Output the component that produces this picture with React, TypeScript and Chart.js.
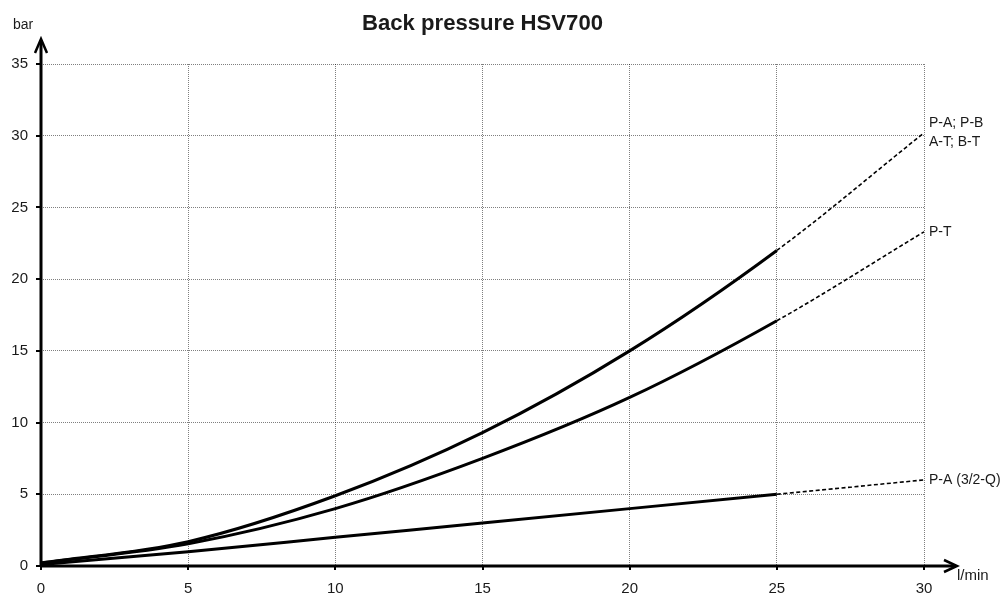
import React, { useEffect, useRef } from "react";
import { Chart, registerables } from "chart.js";

Chart.register(...registerables);

// ---- data ----
const flowValues = [0, 5, 10, 15, 20, 25, 30];
const pressurePAPB = [0.2, 1.7, 4.9, 9.3, 15.0, 22.0, 30.2];
const pressurePT = [0.2, 1.55, 4.0, 7.5, 11.75, 17.1, 23.3];
const pressurePA32 = [0.1, 1.0, 2.0, 3.0, 4.0, 5.0, 6.0];
const seriesLabels = [["P-A; P-B", "A-T; B-T"], ["P-T"], ["P-A (3/2-Q)"]];
const measuredLimit = 25;
const titleText = "Back pressure HSV700";
const yUnit = "bar";
const xUnit = "l/min";
const xMin = 0;
const xMax = 30;
const xStep = 5;
const yMin = 0;
const yMax = 35;
const yStep = 5;

const FONT = "'Liberation Sans', Arial, sans-serif";
const INK = "#1a1a1a";

const toPoints = (ys: number[]) => flowValues.map((x, i) => ({ x, y: ys[i] }));

const decorPlugin = {
  id: "decor",
  afterDraw(chart: any) {
    const { ctx, chartArea, scales } = chart;
    const xs = scales.x;
    const ys = scales.y;
    const L = chartArea.left;
    const B = chartArea.bottom;
    ctx.save();
    ctx.strokeStyle = "#000";
    ctx.fillStyle = INK;
    ctx.lineCap = "butt";

    // tick marks
    ctx.lineWidth = 2;
    ctx.beginPath();
    for (let v = yMin; v <= yMax; v += yStep) {
      const p = Math.round(ys.getPixelForValue(v));
      ctx.moveTo(L - 5, p);
      ctx.lineTo(L, p);
    }
    for (let v = xMin; v <= xMax; v += xStep) {
      const p = Math.round(xs.getPixelForValue(v));
      ctx.moveTo(p, B);
      ctx.lineTo(p, B + 4);
    }
    ctx.stroke();

    // axes with arrows
    const yTip = chartArea.top - 25;
    const xTip = chartArea.right + 33;
    ctx.lineWidth = 3;
    ctx.beginPath();
    ctx.moveTo(L, B);
    ctx.lineTo(L, yTip + 1);
    ctx.moveTo(L, B);
    ctx.lineTo(xTip - 1, B);
    ctx.stroke();
    ctx.lineWidth = 2.5;
    ctx.lineJoin = "miter";
    ctx.beginPath();
    ctx.moveTo(L - 6, yTip + 14);
    ctx.lineTo(L, yTip);
    ctx.lineTo(L + 6, yTip + 14);
    ctx.moveTo(xTip - 13, B - 6);
    ctx.lineTo(xTip, B);
    ctx.lineTo(xTip - 13, B + 6);
    ctx.stroke();

    // unit labels
    ctx.font = `14px ${FONT}`;
    ctx.textBaseline = "middle";
    ctx.textAlign = "left";
    ctx.fillText(yUnit, 13, 25);
    ctx.font = `15px ${FONT}`;
    ctx.fillText(xUnit, xTip, B + 10);

    // series labels at curve ends
    ctx.font = `14px ${FONT}`;
    const ends = [pressurePAPB, pressurePT, pressurePA32];
    ends.forEach((vals, i) => {
      const lines = seriesLabels[i];
      const px = xs.getPixelForValue(flowValues[flowValues.length - 1]) + 5;
      const py = ys.getPixelForValue(vals[vals.length - 1]);
      const lh = 19;
      const start = py - ((lines.length - 1) * lh) / 2;
      lines.forEach((t, k) => ctx.fillText(t, px, start + k * lh));
    });

    // title
    ctx.font = `bold 22px ${FONT}`;
    ctx.textAlign = "center";
    ctx.textBaseline = "alphabetic";
    const w = ctx.measureText(titleText).width;
    const cx = (chartArea.left + chartArea.right) / 2;
    ctx.translate(cx, 30);
    ctx.scale(241 / w, 1);
    ctx.fillText(titleText, 0, 0);
    ctx.restore();
  },
};

export default function App() {
  const ref = useRef<HTMLCanvasElement | null>(null);
  useEffect(() => {
    document.body.style.margin = "0";
    const canvas = ref.current;
    if (!canvas) return;
    const dashed = (ctx: any) => (ctx.p0.parsed.x >= measuredLimit ? [4, 2.5] : undefined);
    const thin = (ctx: any) => (ctx.p0.parsed.x >= measuredLimit ? 1.6 : undefined);
    const mk = (label: string, ys: number[]) => ({
      label,
      data: toPoints(ys),
      borderColor: "#000",
      backgroundColor: "#000",
      borderWidth: 3,
      pointRadius: 0,
      fill: false,
      cubicInterpolationMode: "monotone" as const,
      segment: { borderDash: dashed, borderWidth: thin },
    });
    const chart = new Chart(canvas, {
      type: "line",
      data: {
        datasets: [
          mk(seriesLabels[0].join(" / "), pressurePAPB),
          mk(seriesLabels[1].join(" / "), pressurePT),
          mk(seriesLabels[2].join(" / "), pressurePA32),
        ],
      },
      options: {
        responsive: false,
        animation: false,
        layout: { padding: { top: 64, right: 81, left: 0, bottom: 0 } },
        plugins: { legend: { display: false }, tooltip: { enabled: false }, title: { display: false } },
        scales: {
          x: {
            type: "linear",
            min: xMin,
            max: xMax,
            ticks: { stepSize: xStep, padding: 14, color: INK, font: { family: FONT, size: 15 } },
            grid: { color: "rgba(0,0,0,0.5)", lineWidth: 1, drawTicks: false },
            border: { display: false, dash: [1, 1] },
            afterFit: (s: any) => {
              s.height = 28;
            },
          },
          y: {
            type: "linear",
            min: yMin,
            max: yMax,
            ticks: { stepSize: yStep, padding: 13, color: INK, font: { family: FONT, size: 15 } },
            grid: { color: "rgba(0,0,0,0.5)", lineWidth: 1, drawTicks: false },
            border: { display: false, dash: [1, 1] },
            afterFit: (s: any) => {
              s.width = 41;
            },
          },
        },
      },
      plugins: [decorPlugin],
    });
    return () => chart.destroy();
  }, []);
  return (
    <div style={{ width: 1005, height: 594, position: "relative", background: "#fff" }}>
      <canvas ref={ref} width={1005} height={594} style={{ display: "block" }} />
    </div>
  );
}
